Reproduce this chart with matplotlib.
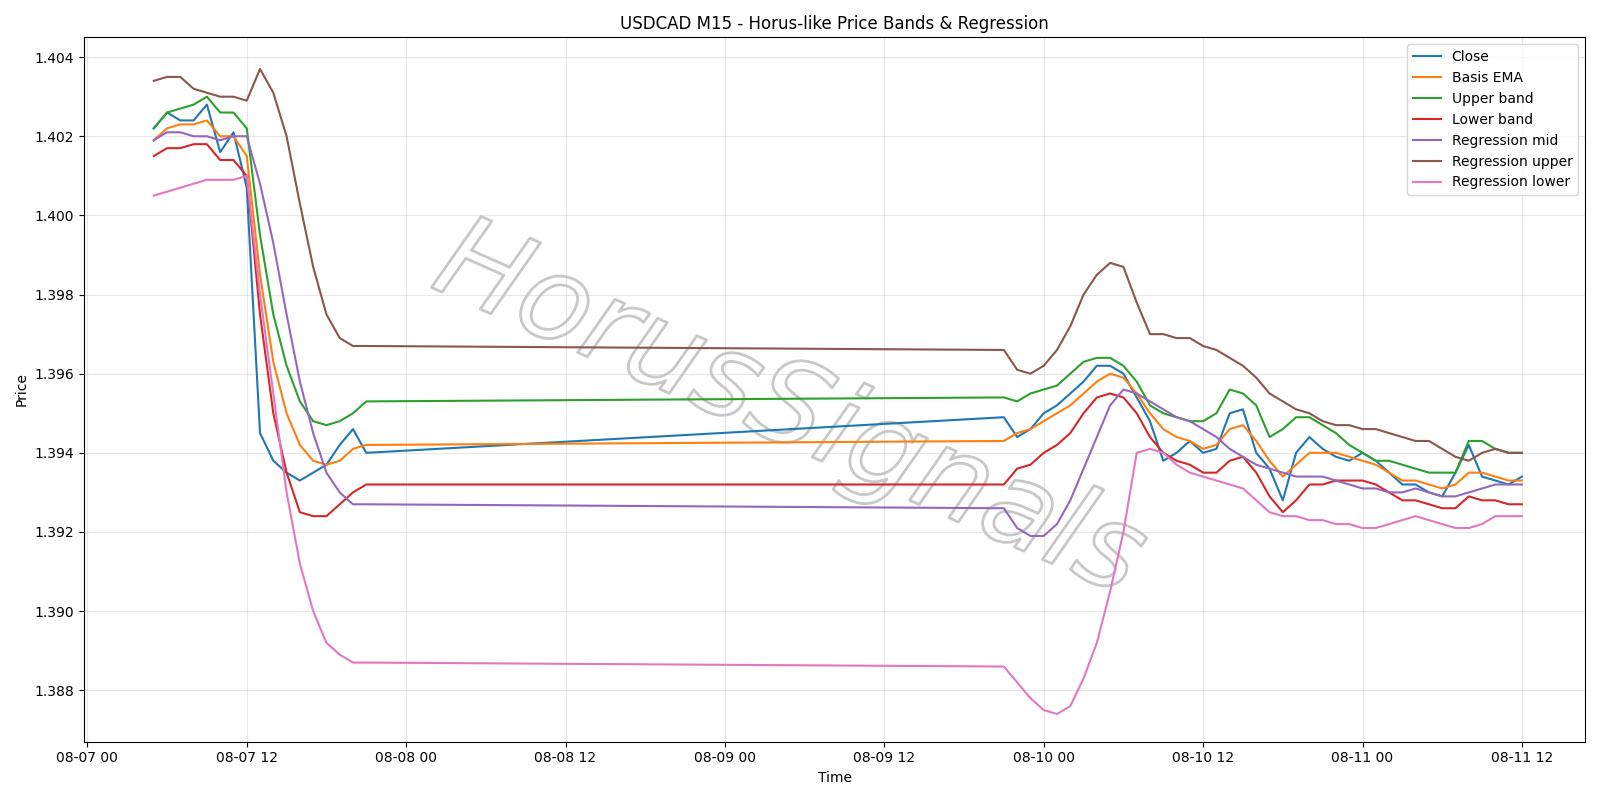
import matplotlib
matplotlib.use("Agg")
import matplotlib.pyplot as plt
import matplotlib.dates as mdates
import matplotlib.patheffects as pe
import pandas as pd

hours = list(range(5, 22)) + list(range(69, 109))
times = pd.Timestamp("2025-08-07 00:00") + pd.to_timedelta(hours, unit="h")

close = [1.4022,1.4026,1.4024,1.4024,1.4028,1.4016,1.4021,1.4007,1.3945,1.3938,1.3935,1.3933,1.3935,1.3937,1.3942,1.3946,1.3940,
 1.3949,1.3944,1.3946,1.3950,1.3952,1.3955,1.3958,1.3962,1.3962,1.3960,1.3954,1.3948,1.3938,1.3940,1.3943,1.3940,1.3941,1.3950,1.3951,1.3940,1.3936,1.3928,1.3940,1.3944,1.3941,1.3939,1.3938,1.3940,1.3938,1.3935,1.3932,1.3932,1.3930,1.3929,1.3935,1.3942,1.3934,1.3933,1.3932,1.3934]
ema = [1.4019,1.4022,1.4023,1.4023,1.4024,1.4020,1.4020,1.4015,1.3985,1.3963,1.3950,1.3942,1.3938,1.3937,1.3938,1.3941,1.3942,
 1.3943,1.3945,1.3946,1.3948,1.3950,1.3952,1.3955,1.3958,1.3960,1.3959,1.3955,1.3950,1.3946,1.3944,1.3943,1.3941,1.3942,1.3946,1.3947,1.3943,1.3938,1.3934,1.3937,1.3940,1.3940,1.3940,1.3939,1.3938,1.3937,1.3935,1.3933,1.3933,1.3932,1.3931,1.3932,1.3935,1.3935,1.3934,1.3933,1.3933]
upper = [1.4022,1.4026,1.4027,1.4028,1.4030,1.4026,1.4026,1.4022,1.3995,1.3975,1.3962,1.3953,1.3948,1.3947,1.3948,1.3950,1.3953,
 1.3954,1.3953,1.3955,1.3956,1.3957,1.3960,1.3963,1.3964,1.3964,1.3962,1.3958,1.3952,1.3950,1.3949,1.3948,1.3948,1.3950,1.3956,1.3955,1.3952,1.3944,1.3946,1.3949,1.3949,1.3947,1.3945,1.3942,1.3940,1.3938,1.3938,1.3937,1.3936,1.3935,1.3935,1.3935,1.3943,1.3943,1.3941,1.3940,1.3940]
lower = [1.4015,1.4017,1.4017,1.4018,1.4018,1.4014,1.4014,1.4010,1.3975,1.3950,1.3935,1.3925,1.3924,1.3924,1.3927,1.3930,1.3932,
 1.3932,1.3936,1.3937,1.3940,1.3942,1.3945,1.3950,1.3954,1.3955,1.3954,1.3950,1.3944,1.3940,1.3938,1.3937,1.3935,1.3935,1.3938,1.3939,1.3935,1.3929,1.3925,1.3928,1.3932,1.3932,1.3933,1.3933,1.3933,1.3932,1.3930,1.3928,1.3928,1.3927,1.3926,1.3926,1.3929,1.3928,1.3928,1.3927,1.3927]
reg_mid = [1.4019,1.4021,1.4021,1.4020,1.4020,1.4019,1.4020,1.4020,1.4008,1.3993,1.3975,1.3958,1.3945,1.3935,1.3930,1.3927,1.3927,
 1.3926,1.3921,1.3919,1.3919,1.3922,1.3928,1.3936,1.3944,1.3952,1.3956,1.3955,1.3953,1.3951,1.3949,1.3948,1.3946,1.3944,1.3941,1.3939,1.3937,1.3936,1.3935,1.3934,1.3934,1.3934,1.3933,1.3932,1.3931,1.3931,1.3930,1.3930,1.3931,1.3930,1.3929,1.3929,1.3930,1.3931,1.3932,1.3932,1.3932]
reg_upper = [1.4034,1.4035,1.4035,1.4032,1.4031,1.4030,1.4030,1.4029,1.4037,1.4031,1.4020,1.4003,1.3987,1.3975,1.3969,1.3967,1.3967,
 1.3966,1.3961,1.3960,1.3962,1.3966,1.3972,1.3980,1.3985,1.3988,1.3987,1.3978,1.3970,1.3970,1.3969,1.3969,1.3967,1.3966,1.3964,1.3962,1.3959,1.3955,1.3953,1.3951,1.3950,1.3948,1.3947,1.3947,1.3946,1.3946,1.3945,1.3944,1.3943,1.3943,1.3941,1.3939,1.3938,1.3940,1.3941,1.3940,1.3940]
reg_lower = [1.4005,1.4006,1.4007,1.4008,1.4009,1.4009,1.4009,1.4010,1.3980,1.3955,1.3930,1.3912,1.3900,1.3892,1.3889,1.3887,1.3887,
 1.3886,1.3882,1.3878,1.3875,1.3874,1.3876,1.3883,1.3892,1.3905,1.3920,1.3940,1.3941,1.3940,1.3937,1.3935,1.3934,1.3933,1.3932,1.3931,1.3928,1.3925,1.3924,1.3924,1.3923,1.3923,1.3922,1.3922,1.3921,1.3921,1.3922,1.3923,1.3924,1.3923,1.3922,1.3921,1.3921,1.3922,1.3924,1.3924,1.3924]

series = [("Close", close), ("Basis EMA", ema), ("Upper band", upper), ("Lower band", lower),
          ("Regression mid", reg_mid), ("Regression upper", reg_upper), ("Regression lower", reg_lower)]

fig, ax = plt.subplots(figsize=(16, 8), dpi=100)
for name, vals in series:
    ax.plot(times, vals, label=name, linewidth=1.5, zorder=3)

ax.text(0.47, 0.47, "HorusSignals", transform=ax.transAxes, fontsize=84, rotation=-24,
        ha="center", va="center", color="none", style="italic", zorder=2,
        path_effects=[pe.withStroke(linewidth=2.0, foreground="#c8c8c8")])

ax.set_title("USDCAD M15 - Horus-like Price Bands & Regression")
ax.set_xlabel("Time")
ax.set_ylabel("Price")
ax.set_ylim(1.3867, 1.4045)
ax.set_xlim(pd.Timestamp("2025-08-06 23:45"), pd.Timestamp("2025-08-11 16:45"))
ax.xaxis.set_major_locator(mdates.HourLocator(byhour=[0, 12]))
ax.xaxis.set_major_formatter(mdates.DateFormatter("%m-%d %H"))
ax.grid(True, alpha=0.3)
ax.legend(loc="upper right")
fig.tight_layout()
fig.savefig("out.png")
